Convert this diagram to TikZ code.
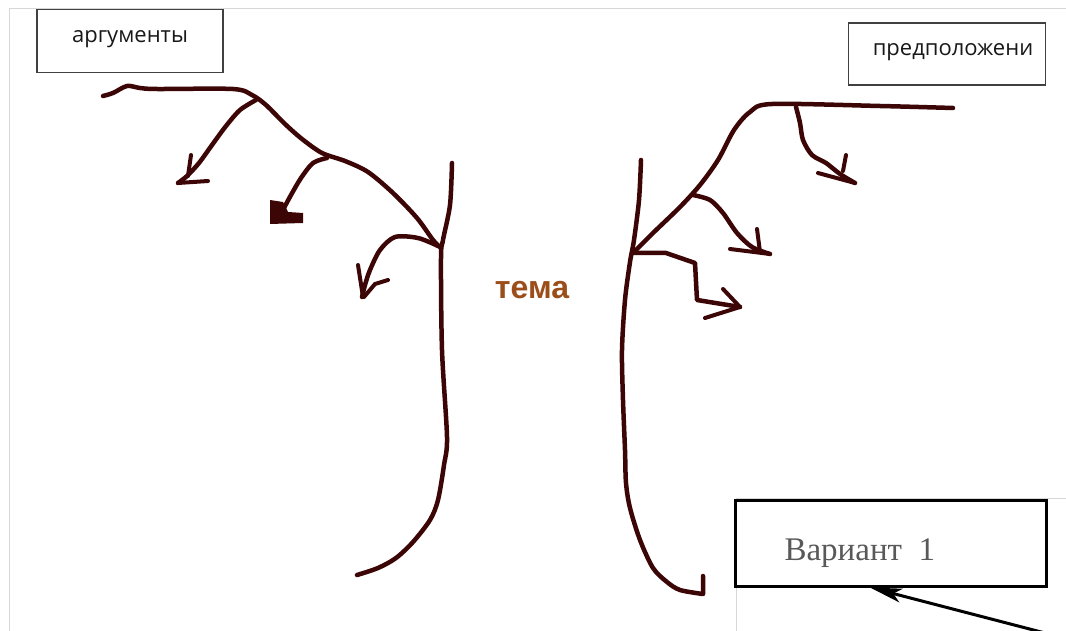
\documentclass[tikz,border=0pt]{standalone}
\usepackage{fontspec}
\setmainfont{Liberation Serif}
\newfontfamily\boxfont{Open Sans}
\newfontfamily\themefont{Liberation Sans}
\usetikzlibrary{arrows.meta}
\definecolor{ink}{RGB}{60,6,6}
\definecolor{themecol}{RGB}{155,78,25}
\definecolor{framegray}{RGB}{215,215,215}
\tikzset{
    labelbox/.style={rectangle, draw=black!75, line width=1.5pt, inner sep=0pt},
    labeltext/.style={font=\boxfont\fontsize{22}{24}\selectfont, text=black!90, anchor=base},
    variantbox/.style={rectangle, draw=black, line width=3pt, inner sep=0pt},
    stroke/.style={draw=ink, line width=4.5pt, line cap=round, line join=round},
    barb/.style={draw=ink, line width=4pt, line cap=round},
    pointer/.style={-{Stealth[length=32pt,width=14pt,inset=8pt]}, line width=3pt},
}

\begin{document}
\begin{tikzpicture}[x=1pt, y=-1pt]
    \useasboundingbox (0,0) rectangle (1066,631);
    \fill[white] (0,0) rectangle (1066,631);
    \draw[framegray, line width=1pt] (9,631) -- (9,9) -- (1066,9);
    \draw[framegray, line width=1pt] (736,631) -- (736,498) -- (1066,498);

    % boxes
    \node[labelbox, minimum width=186pt, minimum height=63pt] (arg) at (130,41) {};
    \node[labeltext] (argtext) at (130,43) {аргументы};
    \node[labelbox, minimum width=197pt, minimum height=62pt] (pred) at (947,54) {};
    \node[labeltext] (predtext) at (953,56) {предположени};
    \node[font=\themefont\bfseries\fontsize{32}{34}\selectfont, text=themecol] (theme) at (532,290) {тема};
    \node[variantbox, minimum width=311pt, minimum height=86pt] (var) at (891,543) {};
    \node[font=\fontsize{33}{36}\selectfont, text=black!65, anchor=base west] (vartext) at (781,560) {Вариант\hspace{0.5em}1};

    % left
    \draw[stroke] plot[smooth] coordinates {(103,96) (113,93) (127,86) (140,88) (157,89) (233,89) (252,95) (266,105) (285,124) (302,139) (322,153) (345,161) (368,172) (393,193) (417,218) (433,240) (441,248)};
    \draw[stroke] plot[smooth] coordinates {(452,163) (450,205) (443,240) (441,258) (442,350) (447,437) (444,465) (438,500) (430,520) (413,542) (396,558) (378,568) (357,575)};
    \draw[stroke] plot[smooth] coordinates {(256,100) (240,110) (226,126) (212,145) (199,163) (187,176) (178,183)};
    \draw[barb] (191,155) -- (188,176);
    \draw[barb] (178,183) -- (208,181);
    \draw[stroke] plot[smooth] coordinates {(327,158) (313,163) (301,178) (291,195) (284,208)};
    \fill[ink] (270,200) -- (283,202) -- (288,212) -- (303,213) -- (303,223) -- (270,224) -- cycle;
    \draw[stroke] plot[smooth] coordinates {(438,246) (418,238) (395,237) (380,250) (370,270) (365,285) (362,297)};
    \draw[barb] (358,265) -- (363,297);
    \draw[barb] (388,280) -- (375,284) -- (364,297);

    % right
    \draw[stroke] plot[smooth] coordinates {(641,160) (639,200) (634,240) (630,262) (625,300) (622,350) (623,400) (625,450) (626,483) (630,508) (640,540) (653,568) (667,582) (680,590) (703,594)} -- (703,576);
    \draw[stroke] plot[smooth] coordinates {(633,253) (653,233) (680,207) (700,185) (718,160) (734,130) (750,112) (772,104) (880,106) (953,108)};
    \draw[stroke] plot[smooth] coordinates {(796,107) (800,123) (803,140) (812,155) (826,163) (840,174) (855,183)};
    \draw[barb] (846,155) -- (843,171);
    \draw[barb] (818,173) -- (855,183);
    \draw[stroke] plot[smooth] coordinates {(693,195) (710,200) (723,213) (737,233) (752,247) (770,254)};
    \draw[barb] (757,229) -- (760,252);
    \draw[barb] (730,249) -- (770,254);
    \draw[stroke] (633,253) -- (666,253) -- (695,263) -- (697,300) -- (740,307);
    \draw[barb] (723,289) -- (740,307);
    \draw[barb] (705,318) -- (740,307);

    \coordinate (tail) at (1045,633);
    \draw[pointer] (tail) -- (var.south -| 870,0);
\end{tikzpicture}
\end{document}
